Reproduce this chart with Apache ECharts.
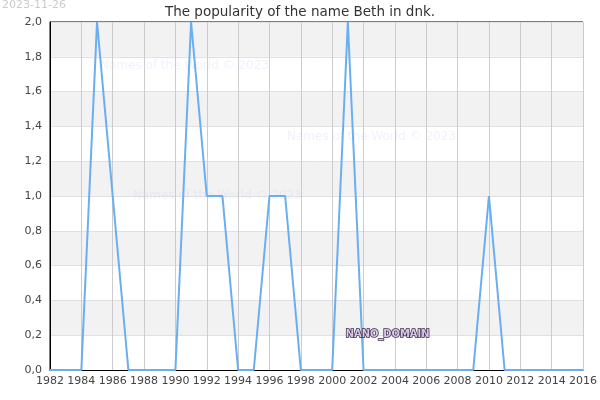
<!DOCTYPE html>
<html>
<head>
<meta charset="utf-8">
<script src="https://cdn.jsdelivr.net/npm/echarts@6/dist/echarts.min.js"></script>
<style>
  html, body { margin: 0; padding: 0; background: #fff; }
  #chart { width: 600px; height: 400px; }
</style>
</head>
<body>
<div id="chart"></div>
<script>
// years and how many babies got the name each year
const years = [1982, 1983, 1984, 1985, 1986, 1987, 1988, 1989, 1990, 1991, 1992, 1993,
  1994, 1995, 1996, 1997, 1998, 1999, 2000, 2001, 2002, 2003, 2004, 2005, 2006, 2007,
  2008, 2009, 2010, 2011, 2012, 2013, 2014, 2015, 2016];
const counts = [0, 0, 0, 2, 1, 0, 0, 0, 0, 2, 1, 1,
  0, 0, 1, 1, 0, 0, 0, 2, 0, 0, 0, 0, 0, 0,
  0, 0, 1, 0, 0, 0, 0, 0, 0];

const titleText = 'The popularity of the name Beth in dnk.';
const dateText = '2023-11-26';
const watermark = 'Names of the World \u00a9 2023';

const chart = echarts.init(document.getElementById('chart'));

const option = {
  animation: false,
  title: {
    text: titleText,
    left: 'center',
    top: 0,
    textStyle: {
      fontFamily: 'DejaVu Sans',
      fontSize: 13.5,
      fontWeight: 'normal',
      color: '#333',
    },
  },
  grid: {
    left: 50,
    right: 14,
    top: 22,
    bottom: 30,
    show: true,
    borderColor: '#000',
    borderWidth: 1,
  },
  xAxis: {
    type: 'value',
    min: 1982,
    max: 2016,
    interval: 2,
    axisLine: {show: true, lineStyle: {color: '#000'}},
    axisTick: {show: false},
    axisLabel: {
      color: '#444',
      fontFamily: 'DejaVu Sans',
      fontSize: 11,
      margin: 6,
      formatter: (v) => String(v),
    },
    splitLine: {show: true, lineStyle: {color: '#ccc'}},
  },
  yAxis: {
    type: 'value',
    min: 0,
    max: 2,
    interval: 0.2,
    axisLine: {show: true, lineStyle: {color: '#000'}},
    axisTick: {show: false},
    axisLabel: {
      color: '#444',
      fontFamily: 'DejaVu Sans',
      fontSize: 11,
      margin: 8,
      formatter: (v) => v.toFixed(1).replace('.', ','),
    },
    splitLine: {show: true, lineStyle: {color: '#e0e0e0'}},
    splitArea: {show: true, areaStyle: {color: ['#ffffff', '#f2f2f2']}},
  },
  series: [{
    type: 'line',
    data: years.map((y, i) => [y, counts[i]]),
    showSymbol: false,
    lineStyle: {color: '#6aaef0', width: 2},
    itemStyle: {color: '#6aaef0'},
    z: 3,
  }],
  graphic: {
    elements: [
      {
        type: 'text', left: 2, top: 0, z: 100,
        style: {text: dateText, fill: '#ccc', fontSize: 11, fontFamily: 'DejaVu Sans'},
      },
      {
        type: 'text', left: 100, top: 60, z: 1,
        style: {text: watermark, fill: 'rgba(205,205,250,0.28)', fontSize: 12, fontFamily: 'DejaVu Sans'},
      },
      {
        type: 'text', left: 287, top: 131, z: 1,
        style: {text: watermark, fill: 'rgba(205,205,250,0.28)', fontSize: 12, fontFamily: 'DejaVu Sans'},
      },
      {
        type: 'text', left: 133, top: 190, z: 1,
        style: {text: watermark, fill: 'rgba(205,205,250,0.28)', fontSize: 12, fontFamily: 'DejaVu Sans'},
      },
      {
        type: 'text', left: 345, top: 328, z: 100,
        style: {
          text: 'NANO_DOMAIN',
          fill: '#d8c8e8',
          stroke: '#3a2a4a',
          lineWidth: 1.5,
          fontSize: 11,
          fontWeight: 'bold',
          fontFamily: 'DejaVu Sans Condensed',
        },
      },
    ],
  },
};

chart.setOption(option);
</script>
</body>
</html>
